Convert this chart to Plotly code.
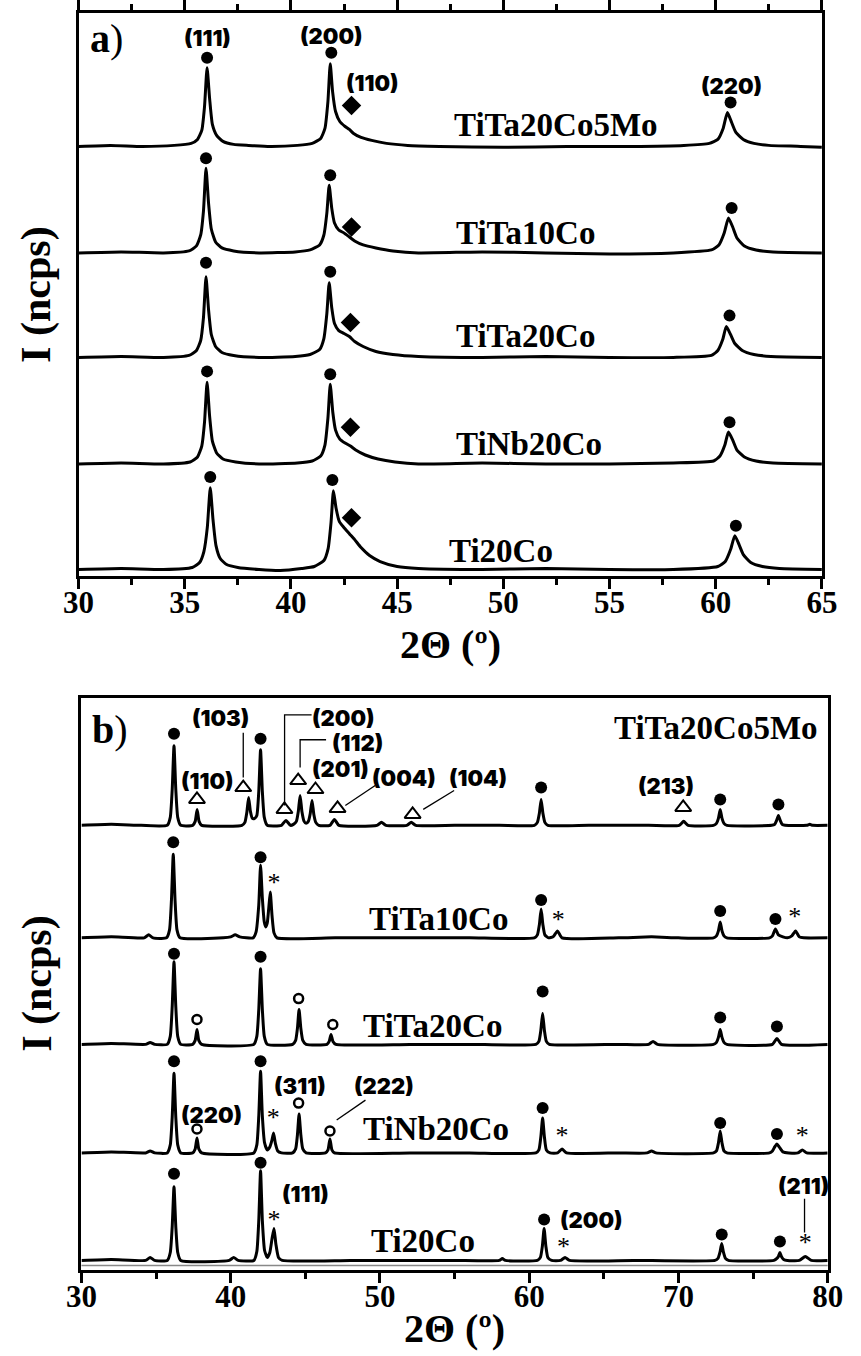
import plotly.graph_objects as go

# ---------------- DATA (2theta in degrees, intensity in arbitrary offset units) ----------------
A_NAMES = ["TiTa20Co5Mo", "TiTa10Co", "TiTa20Co", "TiNb20Co", "Ti20Co"]
A_OFFSETS = [432, 325, 220, 113, 7]

A_TITA20CO5MO = [(30,0),(31.5,1),(33,0),(34.5,1),(35.3,3),(35.6,7),(35.8,16),(35.93,40),(36.05,79),(36.17,48),(36.3,22),(36.5,11),(36.8,5),(37.3,2),(38,1),(39,0),(40.3,1),(41.0,3),(41.4,8),(41.6,18),(41.74,45),(41.85,83),(41.96,55),(42.1,35),(42.3,25),(42.55,20),(42.75,17),(42.95,13),(43.3,9),(43.8,6),(44.5,3),(45.5,1),(47,0),(50,-1),(53,0),(56,0),(58.5,1),(59.7,3),(60.1,7),(60.35,18),(60.55,34),(60.75,24),(60.95,14),(61.3,7),(61.8,3),(62.5,1),(64,0),(65,-1)]
A_TITA10CO = [(30,0),(32,1),(34,0),(35.2,2),(35.55,7),(35.75,18),(35.88,42),(36.0,85),(36.12,50),(36.25,24),(36.45,11),(36.75,5),(37.3,2),(38.5,0),(40.2,1),(40.9,3),(41.35,8),(41.55,18),(41.69,40),(41.8,68),(41.92,45),(42.05,30),(42.25,23),(42.5,20),(42.75,16),(43.0,12),(43.4,8),(44.0,5),(44.8,2),(46,0),(49,1),(52,0),(55,-1),(58,0),(59.8,3),(60.15,8),(60.4,20),(60.6,35),(60.8,26),(61.0,15),(61.35,7),(61.9,3),(62.7,1),(65,0)]
A_TITA20CO = [(30,0),(32,1),(34,0),(35.2,2),(35.55,7),(35.75,17),(35.88,40),(36.0,81),(36.12,48),(36.25,23),(36.45,11),(36.75,5),(37.3,2),(38.5,0),(40.2,1),(40.9,3),(41.35,8),(41.55,19),(41.69,44),(41.8,75),(41.92,50),(42.05,34),(42.25,27),(42.5,24),(42.75,21),(43.0,16),(43.4,11),(44.0,6),(44.8,3),(46,1),(49,0),(52,1),(55,0),(58,0),(59.8,2),(60.1,7),(60.33,18),(60.5,31),(60.7,23),(60.9,14),(61.25,7),(61.8,3),(62.6,1),(65,0)]
A_TINB20CO = [(30,0),(32,1),(34,0),(35.25,2),(35.6,7),(35.8,18),(35.93,42),(36.05,82),(36.17,48),(36.3,23),(36.5,11),(36.8,5),(37.4,2),(38.5,0),(40.3,1),(41.0,3),(41.4,8),(41.6,19),(41.74,46),(41.85,80),(41.97,52),(42.1,34),(42.3,25),(42.55,21),(42.8,18),(43.05,14),(43.5,9),(44.1,5),(44.9,2),(46,0),(49,1),(52,0),(55,0),(58,1),(59.9,3),(60.2,8),(60.43,19),(60.6,32),(60.8,24),(61.0,14),(61.35,7),(61.9,3),(62.7,1),(65,0)]
A_TI20CO = [(30,0),(32,1),(34,0),(35.35,2),(35.7,7),(35.9,18),(36.06,42),(36.2,82),(36.33,50),(36.47,24),(36.67,11),(36.97,5),(37.5,2),(38.5,0),(39.5,-1),(40.5,1),(41.1,3),(41.55,9),(41.75,21),(41.89,48),(42.0,79),(42.12,62),(42.28,48),(42.5,42),(42.75,36),(43.0,30),(43.3,22),(43.7,14),(44.2,8),(45.0,3),(46,1),(49,0),(52,1),(55,0),(58,0),(60.1,3),(60.45,8),(60.7,20),(60.9,34),(61.1,25),(61.3,15),(61.65,7),(62.2,3),(63,1),(65,0)]
A_PROFILES = [A_TITA20CO5MO, A_TITA10CO, A_TITA20CO, A_TINB20CO, A_TI20CO]

B_NAMES = ["TiTa20Co5Mo", "TiTa10Co", "TiTa20Co", "TiNb20Co", "Ti20Co"]
B_OFFSETS = [447, 334, 227, 118, 10]

B_TITA20CO5MO = [(30,0),(32,1),(34,0),(35.75,0),(35.95,8),(36.08,36),(36.2,80),(36.32,36),(36.45,8),(36.65,0),(37.45,0),(37.62,4),(37.75,16),(37.88,4),(38.05,0),(40.75,0),(40.95,3),(41.08,13),(41.2,28),(41.32,14),(41.45,7),(41.6,7),(41.75,10),(41.88,34),(42.0,76),(42.12,34),(42.25,8),(42.45,0),(43.4,0),(43.7,5),(44.0,0),(44.2,1),(44.4,4),(44.53,14),(44.65,30),(44.77,14),(44.92,4),(45.05,2),(45.2,4),(45.33,12),(45.45,25),(45.57,11),(45.7,3),(45.9,0),(46.65,0),(46.95,6),(47.25,0),(49.8,0),(50.1,3),(50.4,0),(51.8,0),(52.1,3),(52.4,0),(55,0),(58,0),(60.35,0),(60.55,3),(60.68,12),(60.8,26),(60.92,12),(61.05,3),(61.25,0),(64,0),(68,0),(70.05,0),(70.35,4),(70.65,0),(72.35,0),(72.55,2),(72.68,7),(72.8,16),(72.92,7),(73.05,2),(73.25,0),(76.25,0),(76.45,1),(76.58,5),(76.7,10),(76.82,5),(76.95,1),(77.15,0),(78.6,0),(78.8,1),(79,0),(80,0)]
B_TITA10CO = [(30,0),(32,1),(34.2,0),(34.5,3),(34.8,0),(35.7,0),(35.9,8),(36.03,38),(36.15,84),(36.27,38),(36.4,8),(36.6,0),(39.5,0),(40.0,1),(40.3,3),(40.6,1),(41.5,0),(41.7,6),(41.88,33),(42.0,73),(42.12,40),(42.25,16),(42.35,11),(42.45,15),(42.55,30),(42.65,46),(42.77,22),(42.9,5),(43.1,0),(47,0),(52,0),(56,0),(60.35,0),(60.55,3),(60.68,13),(60.8,29),(60.92,13),(61.05,3),(61.3,0),(61.6,1),(61.9,7),(62.2,0),(66,0),(68.2,1),(70,0),(72.35,0),(72.55,2),(72.68,7),(72.8,16),(72.92,7),(73.05,2),(73.25,0),(76.1,0),(76.3,2),(76.5,9),(76.7,3),(77.0,1),(77.3,0),(77.6,2),(77.85,7),(78.1,1),(78.4,0),(80,0)]
B_TITA20CO = [(30,0),(32,1),(34.3,0),(34.6,2),(34.9,0),(35.75,0),(35.95,8),(36.08,38),(36.2,83),(36.32,38),(36.45,8),(36.65,0),(37.45,0),(37.62,4),(37.74,15),(37.86,4),(38.05,0),(41.55,0),(41.75,8),(41.88,35),(42.0,76),(42.12,35),(42.25,8),(42.45,0),(44.15,0),(44.35,4),(44.47,16),(44.58,35),(44.7,16),(44.83,4),(45.05,0),(46.45,0),(46.6,3),(46.72,10),(46.85,3),(47.05,0),(52,0),(56,0),(60.45,0),(60.65,3),(60.78,14),(60.9,31),(61.02,14),(61.15,3),(61.35,0),(66,0),(68.0,0),(68.3,3),(68.6,0),(72.35,0),(72.55,2),(72.68,7),(72.8,15),(72.92,7),(73.05,2),(73.25,0),(76.3,0),(76.6,6),(76.9,0),(80,0)]
B_TINB20CO = [(30,0),(32,1),(34.3,0),(34.6,2),(34.9,0),(35.75,0),(35.95,8),(36.08,36),(36.2,80),(36.32,36),(36.45,8),(36.65,0),(37.45,0),(37.62,4),(37.74,15),(37.86,4),(38.05,0),(41.55,0),(41.75,8),(41.88,37),(42.0,82),(42.12,37),(42.27,10),(42.45,3),(42.62,6),(42.75,12),(42.87,20),(43.0,9),(43.15,2),(43.4,0),(44.15,0),(44.35,4),(44.47,18),(44.58,39),(44.7,18),(44.83,4),(45.05,0),(46.35,0),(46.52,3),(46.65,14),(46.78,3),(46.95,0),(52,0),(56,0),(60.45,0),(60.65,3),(60.78,16),(60.9,35),(61.02,16),(61.15,3),(61.4,0),(61.9,0),(62.2,4),(62.5,0),(66,0),(67.9,0),(68.2,2),(68.5,0),(72.35,0),(72.55,2),(72.68,10),(72.8,22),(72.92,10),(73.05,2),(73.25,0),(76.1,0),(76.3,2),(76.45,6),(76.6,9),(76.75,6),(77.0,1),(77.4,0),(78.0,0),(78.3,3),(78.6,0),(80,0)]
B_TI20CO = [(30,0),(32,1),(34.3,0),(34.6,3),(34.9,0),(35.75,0),(35.95,8),(36.08,34),(36.2,74),(36.32,34),(36.45,8),(36.65,0),(39.9,0),(40.2,3),(40.5,0),(41.55,0),(41.75,9),(41.88,40),(42.0,90),(42.12,40),(42.27,10),(42.45,3),(42.62,8),(42.77,22),(42.9,32),(43.03,16),(43.2,3),(43.45,0),(48,0),(52,0),(55,0),(58.0,0),(58.2,2),(58.4,0),(60.55,0),(60.75,3),(60.88,14),(61.0,32),(61.12,14),(61.25,3),(61.5,0),(62.1,0),(62.4,3),(62.7,0),(67,0),(72.45,0),(72.65,2),(72.78,8),(72.9,17),(73.02,8),(73.15,2),(73.35,0),(76.4,0),(76.6,2),(76.7,4),(76.8,8),(76.9,4),(77.05,1),(77.3,0),(78.1,0),(78.5,4),(78.9,0),(80,0)]
B_PROFILES = [B_TITA20CO5MO, B_TITA10CO, B_TITA20CO, B_TINB20CO, B_TI20CO]

# Phase markers (2theta, absolute intensity on the stacked scale)
A_DOTS = [(36.05,521),(41.9,526),(60.7,476),
          (36.0,420),(41.85,403),(60.75,370),
          (36.0,315),(41.85,306),(60.65,262),
          (36.05,206),(41.85,203),(60.65,155),
          (36.2,100),(41.95,97),(60.95,51)]
A_DIAMONDS = [(42.85,473),(42.85,351),(42.8,255),(42.8,150),(42.85,59)]
A_HKL = [("(111)",36.05,541),("(200)",41.9,543),("(110)",43.85,496),("(220)",60.75,493)]

B_DOTS = [(36.2,539),(42.0,534),(60.8,485),(72.8,473),(76.7,468),
          (36.15,430),(42.0,415),(60.8,372),(72.8,361),(76.5,353),
          (36.2,318),(42.0,315),(60.9,280),(72.8,254),(76.6,245),
          (36.2,210),(42.0,210),(60.9,163),(72.8,148),(76.6,137),
          (36.2,97),(42.0,108),(61.0,51),(72.9,36),(76.8,29)]
B_TRIANGLES = [(37.74,473),(40.84,485),(43.6,463),(44.52,492),(45.68,483),(47.16,464),(52.19,458),(70.32,465)]
B_RINGS = [(37.74,252),(44.55,273),(46.84,247),(37.74,142),(44.55,168),(46.65,140)]
B_STARS = [(42.9,388),(61.94,350),(77.8,353),(42.85,152),(62.2,133),(78.3,133),(42.9,49),(62.3,22),(78.5,26)]
B_HKL = [("(103)",39.29,555),("(110)",38.45,492),("(200)",47.55,555),("(112)",48.52,530),("(201)",47.35,504),
         ("(004)",51.61,495),("(104)",56.58,495),("(213)",69.16,487),
         ("(220)",38.7,156),("(311)",44.65,185),("(222)",50.26,185),
         ("(111)",45.0,77),("(200)",64.2,51),("(211)",78.4,85)]
B_LEADERS = [[(40.84,540),(40.84,495)],
             [(45.42,558),(43.61,558),(43.61,467)],
             [(46.39,533),(44.65,533),(44.65,505)],
             [(49.68,487),(47.68,467)],
             [(54.97,482),(52.9,463)],
             [(49.03,171),(47.1,151)],
             [(78.45,72),(78.45,38)]]

A_LABEL_POS = [(47.57,453),(47.7,345),(47.7,242),(47.7,133),(47.34,26)]
B_LABEL_POS = [(None,545),(49.16,353),(48.71,245),(48.71,142),(49.29,30)]

A_XTICKS = [30, 35, 40, 45, 50, 55, 60, 65]
B_XTICKS = [30, 40, 50, 60, 70, 80]

# ---------------- FIGURE ----------------
W, H = 861, 1356
fig = go.Figure()
BLACK = "#000000"
SERIF = "Liberation Serif"
HKL_FONT = dict(family="Inter, DejaVu Sans", size=22, color=BLACK, weight=900)

def add_profile(pts, off, xa, ya):
    fig.add_trace(go.Scatter(x=[p[0] for p in pts], y=[p[1] + off for p in pts],
                             mode="lines", line=dict(color=BLACK, width=3, shape="spline", smoothing=0.5),
                             xaxis=xa, yaxis=ya, showlegend=False, hoverinfo="skip"))

for pts, off in zip(A_PROFILES, A_OFFSETS):
    add_profile(pts, off, "x", "y")
for pts, off in zip(B_PROFILES, B_OFFSETS):
    add_profile(pts, off, "x2", "y2")

def add_markers(pts, xa, ya, symbol, size, lw=0):
    fig.add_trace(go.Scatter(x=[p[0] for p in pts], y=[p[1] for p in pts], mode="markers",
                             marker=dict(symbol=symbol, size=size, color=BLACK,
                                         line=dict(color=BLACK, width=lw)),
                             xaxis=xa, yaxis=ya, showlegend=False, hoverinfo="skip"))

add_markers(A_DOTS, "x", "y", "circle", 12)
add_markers(A_DIAMONDS, "x", "y", "diamond", 15)
add_markers(B_DOTS, "x2", "y2", "circle", 12)
add_markers(B_TRIANGLES, "x2", "y2", "triangle-up-open", 14, lw=2)
add_markers(B_RINGS, "x2", "y2", "circle-open", 9, lw=2.5)
fig.add_trace(go.Scatter(x=[p[0] for p in B_STARS], y=[p[1] for p in B_STARS], mode="text",
                         text=["*"] * len(B_STARS), textposition="middle center",
                         textfont=dict(family=SERIF, size=26, color=[BLACK] * len(B_STARS)),
                         xaxis="x2", yaxis="y2", showlegend=False, hoverinfo="skip"))

ann = []
for t, x, y in A_HKL:
    ann.append(dict(text=t, x=x, y=y, xref="x", yref="y", showarrow=False,
                    xanchor="center", yanchor="middle", font=HKL_FONT))
for t, x, y in B_HKL:
    ann.append(dict(text=t, x=x, y=y, xref="x2", yref="y2", showarrow=False,
                    xanchor="center", yanchor="middle", font=HKL_FONT))
for name, (x, y) in zip(A_NAMES, A_LABEL_POS):
    ann.append(dict(text="<b>%s</b>" % name, x=x, y=y, xref="x", yref="y", showarrow=False,
                    xanchor="left", yanchor="middle", font=dict(family=SERIF, size=33, color=BLACK)))
for name, (x, y) in zip(B_NAMES, B_LABEL_POS):
    if x is None:
        ann.append(dict(text="<b>%s</b>" % name, x=0.99, y=y, xref="x2 domain", yref="y2", showarrow=False,
                        xanchor="right", yanchor="middle", font=dict(family=SERIF, size=33, color=BLACK)))
    else:
        ann.append(dict(text="<b>%s</b>" % name, x=x, y=y, xref="x2", yref="y2", showarrow=False,
                        xanchor="left", yanchor="middle", font=dict(family=SERIF, size=33, color=BLACK)))
# panel letters
ann.append(dict(text="<b>a</b>)", x=0.012, y=0.955, xref="x domain", yref="y domain", xanchor="left",
                yanchor="middle", showarrow=False, font=dict(family=SERIF, size=40, color=BLACK)))
ann.append(dict(text="<b>b</b>)", x=0.012, y=0.945, xref="x2 domain", yref="y2 domain", xanchor="left",
                yanchor="middle", showarrow=False, font=dict(family=SERIF, size=40, color=BLACK)))
# axis titles
for xp, yp in [(451 / W, 1 - 641 / H), (455 / W, 1 - 1328 / H)]:
    ann.append(dict(text="<b>2Θ (º)</b>", x=xp, y=yp, xref="paper", yref="paper", showarrow=False,
                    xanchor="center", yanchor="middle", font=dict(family=SERIF, size=40, color=BLACK)))
for yp in [1 - 290 / H, 1 - 982 / H]:
    ann.append(dict(text="<b>I (ncps)</b>", x=22 / W, y=yp, xref="paper", yref="paper", showarrow=False,
                    xanchor="center", yanchor="middle", textangle=-90,
                    font=dict(family=SERIF, size=42, color=BLACK)))

shapes = []
for seg in B_LEADERS:
    path = "M " + " L ".join("%g,%g" % (x, y) for x, y in seg)
    shapes.append(dict(type="path", path=path, xref="x2", yref="y2",
                       line=dict(color=BLACK, width=1.3)))
shapes.append(dict(type="line", x0=0, x1=1, y0=5, y1=5, xref="x2 domain", yref="y2",
                   line=dict(color="#888888", width=1.5)))

axis_common = dict(showline=True, linewidth=3, linecolor=BLACK, showgrid=False, zeroline=False,
                   ticks="outside", ticklen=10, tickwidth=3, tickcolor=BLACK, ticklabelstandoff=-14,
                   tickfont=dict(family=SERIF, size=31, color=BLACK, weight="bold"))
yaxis_common = dict(showline=True, linewidth=3, linecolor=BLACK, mirror=True, showgrid=False,
                    zeroline=False, showticklabels=False, ticks="")

fig.update_layout(
    width=W, height=H, margin=dict(l=0, r=0, t=0, b=0),
    plot_bgcolor="white", paper_bgcolor="white",
    xaxis=dict(domain=[65 / W, 837 / W], range=[30, 65], tickvals=A_XTICKS, mirror="allticks",
               minor=dict(dtick=2.5, ticklen=6, tickwidth=2.5, ticks="outside", tickcolor=BLACK),
               anchor="y", **axis_common),
    yaxis=dict(domain=[1 - 573 / H, 1 - 7 / H], range=[0, 566], anchor="x", **yaxis_common),
    xaxis2=dict(domain=[68 / W, 843 / W], range=[30, 80], tickvals=B_XTICKS, mirror=True,
                minor=dict(dtick=5, ticklen=6, tickwidth=2.5, ticks="outside", tickcolor=BLACK),
                anchor="y2", **axis_common),
    yaxis2=dict(domain=[1 - 1270 / H, 1 - 695 / H], range=[0, 575], anchor="x2", **yaxis_common),
    annotations=ann, shapes=shapes,
)

fig.write_html("out.html")
